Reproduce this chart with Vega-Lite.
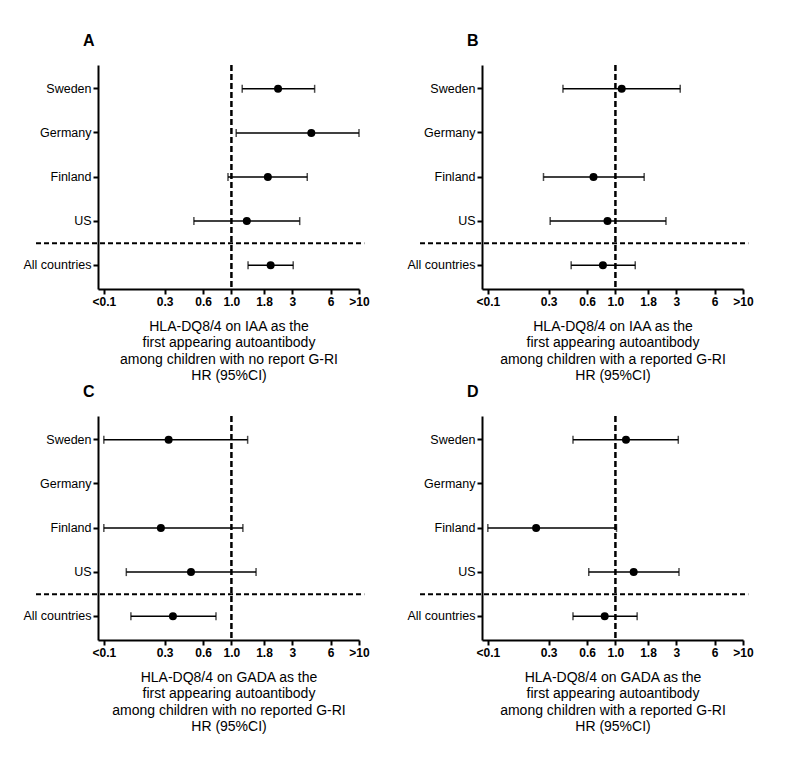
{
  "$schema": "https://vega.github.io/schema/vega-lite/v6.json",
  "padding": {"left": 22, "top": 32, "right": 5, "bottom": 5},
  "background": "white",
  "config": {
    "font": "Liberation Sans",
    "view": {"stroke": null},
    "title": {"fontSize": 16, "fontWeight": "bold", "anchor": "start", "frame": "group", "dx": -15, "offset": 15, "color": "black"},
    "axis": {"domainColor": "black", "domainWidth": 2, "tickColor": "black", "tickWidth": 2, "tickSize": 5, "labelColor": "black", "titleColor": "black", "grid": false}
  },
  "data": {"values": [
    {"panel": "A", "country": "Sweden", "hr": 2.32, "lo": 1.215, "hi": 4.49},
    {"panel": "A", "country": "Germany", "hr": 4.23, "lo": 1.09, "hi": 10},
    {"panel": "A", "country": "Finland", "hr": 1.93, "lo": 0.94, "hi": 3.93},
    {"panel": "A", "country": "US", "hr": 1.32, "lo": 0.508, "hi": 3.43},
    {"panel": "A", "country": "All countries", "hr": 2.03, "lo": 1.35, "hi": 3.05},
    {"panel": "B", "country": "Sweden", "hr": 1.12, "lo": 0.388, "hi": 3.22},
    {"panel": "B", "country": "Finland", "hr": 0.673, "lo": 0.273, "hi": 1.68},
    {"panel": "B", "country": "US", "hr": 0.867, "lo": 0.308, "hi": 2.49},
    {"panel": "B", "country": "All countries", "hr": 0.798, "lo": 0.45, "hi": 1.43},
    {"panel": "C", "country": "Sweden", "hr": 0.322, "lo": 0.1, "hi": 1.34},
    {"panel": "C", "country": "Finland", "hr": 0.28, "lo": 0.1, "hi": 1.23},
    {"panel": "C", "country": "US", "hr": 0.482, "lo": 0.15, "hi": 1.56},
    {"panel": "C", "country": "All countries", "hr": 0.348, "lo": 0.163, "hi": 0.757},
    {"panel": "D", "country": "Sweden", "hr": 1.21, "lo": 0.465, "hi": 3.11},
    {"panel": "D", "country": "Finland", "hr": 0.239, "lo": 0.1, "hi": 1.02},
    {"panel": "D", "country": "US", "hr": 1.39, "lo": 0.618, "hi": 3.15},
    {"panel": "D", "country": "All countries", "hr": 0.824, "lo": 0.465, "hi": 1.48}
  ]},
  "columns": 2,
  "spacing": {"row": 0, "column": 36},
  "concat": [
    {
      "title": "A",
      "width": 261, "height": 224,
      "transform": [{"filter": "datum.panel == 'A'"}],
      "layer": [
        {"data": {"values": [{}]}, "mark": {"type": "rule", "strokeDash": [6, 3], "strokeWidth": 2.5, "color": "black"}, "encoding": {"x": {"datum": 1, "type": "quantitative"}}},
        {"data": {"values": [{}]}, "mark": {"type": "rule", "strokeDash": [5, 3], "strokeWidth": 2, "color": "black"}, "encoding": {"y": {"datum": "All countries", "type": "nominal", "bandPosition": 0}, "x": {"datum": 0.0294, "type": "quantitative"}, "x2": {"datum": 11}}},
        {"mark": {"type": "rule", "strokeWidth": 1.5, "color": "black"}, "encoding": {"x": {"field": "lo", "type": "quantitative"}, "x2": {"field": "hi"}, "y": {"field": "country", "type": "nominal"}}},
        {"mark": {"type": "tick", "size": 8, "thickness": 1.5, "color": "black"}, "encoding": {"x": {"field": "lo", "type": "quantitative"}, "y": {"field": "country", "type": "nominal"}}},
        {"mark": {"type": "tick", "size": 8, "thickness": 1.5, "color": "black"}, "encoding": {"x": {"field": "hi", "type": "quantitative"}, "y": {"field": "country", "type": "nominal"}}},
        {"mark": {"type": "circle", "size": 64, "opacity": 1, "color": "black"}, "encoding": {
          "x": {"field": "hr", "type": "quantitative", "scale": {"type": "log", "domain": [0.09, 10], "nice": false}, "axis": {"values": [0.1, 0.3, 0.6, 1, 1.8, 3, 6, 10], "labelExpr": "datum.value <= 0.1 ? '<0.1' : datum.value >= 10 ? '>10' : datum.value == 1 ? '1.0' : format(datum.value, '~g')", "labelFlush": false, "labelOverlap": false, "labelFontSize": 12, "labelFontWeight": "bold", "labelPadding": 2, "title": ["HLA-DQ8/4 on IAA as the", "first appearing autoantibody", "among children with no report G-RI", "HR (95%CI)"], "titleFontSize": 14, "titleFontWeight": "normal", "titleLineHeight": 16.5, "titlePadding": 12}},
          "y": {"field": "country", "type": "nominal", "scale": {"domain": ["Sweden", "Germany", "Finland", "US", "All countries"], "paddingInner": 0, "paddingOuter": 0.04}, "sort": null, "axis": {"title": null, "labelFontSize": 12.5, "labelPadding": 2}}
        }}
      ]
    },
    {
      "title": "B",
      "width": 261, "height": 224,
      "transform": [{"filter": "datum.panel == 'B'"}],
      "layer": [
        {"data": {"values": [{}]}, "mark": {"type": "rule", "strokeDash": [6, 3], "strokeWidth": 2.5, "color": "black"}, "encoding": {"x": {"datum": 1, "type": "quantitative"}}},
        {"data": {"values": [{}]}, "mark": {"type": "rule", "strokeDash": [5, 3], "strokeWidth": 2, "color": "black"}, "encoding": {"y": {"datum": "All countries", "type": "nominal", "bandPosition": 0}, "x": {"datum": 0.0294, "type": "quantitative"}, "x2": {"datum": 11}}},
        {"mark": {"type": "rule", "strokeWidth": 1.5, "color": "black"}, "encoding": {"x": {"field": "lo", "type": "quantitative"}, "x2": {"field": "hi"}, "y": {"field": "country", "type": "nominal"}}},
        {"mark": {"type": "tick", "size": 8, "thickness": 1.5, "color": "black"}, "encoding": {"x": {"field": "lo", "type": "quantitative"}, "y": {"field": "country", "type": "nominal"}}},
        {"mark": {"type": "tick", "size": 8, "thickness": 1.5, "color": "black"}, "encoding": {"x": {"field": "hi", "type": "quantitative"}, "y": {"field": "country", "type": "nominal"}}},
        {"mark": {"type": "circle", "size": 64, "opacity": 1, "color": "black"}, "encoding": {
          "x": {"field": "hr", "type": "quantitative", "scale": {"type": "log", "domain": [0.09, 10], "nice": false}, "axis": {"values": [0.1, 0.3, 0.6, 1, 1.8, 3, 6, 10], "labelExpr": "datum.value <= 0.1 ? '<0.1' : datum.value >= 10 ? '>10' : datum.value == 1 ? '1.0' : format(datum.value, '~g')", "labelFlush": false, "labelOverlap": false, "labelFontSize": 12, "labelFontWeight": "bold", "labelPadding": 2, "title": ["HLA-DQ8/4 on IAA as the", "first appearing autoantibody", "among children with a reported G-RI", "HR (95%CI)"], "titleFontSize": 14, "titleFontWeight": "normal", "titleLineHeight": 16.5, "titlePadding": 12}},
          "y": {"field": "country", "type": "nominal", "scale": {"domain": ["Sweden", "Germany", "Finland", "US", "All countries"], "paddingInner": 0, "paddingOuter": 0.04}, "sort": null, "axis": {"title": null, "labelFontSize": 12.5, "labelPadding": 2}}
        }}
      ]
    },
    {
      "title": "C",
      "width": 261, "height": 224,
      "transform": [{"filter": "datum.panel == 'C'"}],
      "layer": [
        {"data": {"values": [{}]}, "mark": {"type": "rule", "strokeDash": [6, 3], "strokeWidth": 2.5, "color": "black"}, "encoding": {"x": {"datum": 1, "type": "quantitative"}}},
        {"data": {"values": [{}]}, "mark": {"type": "rule", "strokeDash": [5, 3], "strokeWidth": 2, "color": "black"}, "encoding": {"y": {"datum": "All countries", "type": "nominal", "bandPosition": 0}, "x": {"datum": 0.0294, "type": "quantitative"}, "x2": {"datum": 11}}},
        {"mark": {"type": "rule", "strokeWidth": 1.5, "color": "black"}, "encoding": {"x": {"field": "lo", "type": "quantitative"}, "x2": {"field": "hi"}, "y": {"field": "country", "type": "nominal"}}},
        {"mark": {"type": "tick", "size": 8, "thickness": 1.5, "color": "black"}, "encoding": {"x": {"field": "lo", "type": "quantitative"}, "y": {"field": "country", "type": "nominal"}}},
        {"mark": {"type": "tick", "size": 8, "thickness": 1.5, "color": "black"}, "encoding": {"x": {"field": "hi", "type": "quantitative"}, "y": {"field": "country", "type": "nominal"}}},
        {"mark": {"type": "circle", "size": 64, "opacity": 1, "color": "black"}, "encoding": {
          "x": {"field": "hr", "type": "quantitative", "scale": {"type": "log", "domain": [0.09, 10], "nice": false}, "axis": {"values": [0.1, 0.3, 0.6, 1, 1.8, 3, 6, 10], "labelExpr": "datum.value <= 0.1 ? '<0.1' : datum.value >= 10 ? '>10' : datum.value == 1 ? '1.0' : format(datum.value, '~g')", "labelFlush": false, "labelOverlap": false, "labelFontSize": 12, "labelFontWeight": "bold", "labelPadding": 2, "title": ["HLA-DQ8/4 on GADA as the", "first appearing autoantibody", "among children with no reported G-RI", "HR (95%CI)"], "titleFontSize": 14, "titleFontWeight": "normal", "titleLineHeight": 16.5, "titlePadding": 12}},
          "y": {"field": "country", "type": "nominal", "scale": {"domain": ["Sweden", "Germany", "Finland", "US", "All countries"], "paddingInner": 0, "paddingOuter": 0.04}, "sort": null, "axis": {"title": null, "labelFontSize": 12.5, "labelPadding": 2}}
        }}
      ]
    },
    {
      "title": "D",
      "width": 261, "height": 224,
      "transform": [{"filter": "datum.panel == 'D'"}],
      "layer": [
        {"data": {"values": [{}]}, "mark": {"type": "rule", "strokeDash": [6, 3], "strokeWidth": 2.5, "color": "black"}, "encoding": {"x": {"datum": 1, "type": "quantitative"}}},
        {"data": {"values": [{}]}, "mark": {"type": "rule", "strokeDash": [5, 3], "strokeWidth": 2, "color": "black"}, "encoding": {"y": {"datum": "All countries", "type": "nominal", "bandPosition": 0}, "x": {"datum": 0.0294, "type": "quantitative"}, "x2": {"datum": 11}}},
        {"mark": {"type": "rule", "strokeWidth": 1.5, "color": "black"}, "encoding": {"x": {"field": "lo", "type": "quantitative"}, "x2": {"field": "hi"}, "y": {"field": "country", "type": "nominal"}}},
        {"mark": {"type": "tick", "size": 8, "thickness": 1.5, "color": "black"}, "encoding": {"x": {"field": "lo", "type": "quantitative"}, "y": {"field": "country", "type": "nominal"}}},
        {"mark": {"type": "tick", "size": 8, "thickness": 1.5, "color": "black"}, "encoding": {"x": {"field": "hi", "type": "quantitative"}, "y": {"field": "country", "type": "nominal"}}},
        {"mark": {"type": "circle", "size": 64, "opacity": 1, "color": "black"}, "encoding": {
          "x": {"field": "hr", "type": "quantitative", "scale": {"type": "log", "domain": [0.09, 10], "nice": false}, "axis": {"values": [0.1, 0.3, 0.6, 1, 1.8, 3, 6, 10], "labelExpr": "datum.value <= 0.1 ? '<0.1' : datum.value >= 10 ? '>10' : datum.value == 1 ? '1.0' : format(datum.value, '~g')", "labelFlush": false, "labelOverlap": false, "labelFontSize": 12, "labelFontWeight": "bold", "labelPadding": 2, "title": ["HLA-DQ8/4 on GADA as the", "first appearing autoantibody", "among children with a reported G-RI", "HR (95%CI)"], "titleFontSize": 14, "titleFontWeight": "normal", "titleLineHeight": 16.5, "titlePadding": 12}},
          "y": {"field": "country", "type": "nominal", "scale": {"domain": ["Sweden", "Germany", "Finland", "US", "All countries"], "paddingInner": 0, "paddingOuter": 0.04}, "sort": null, "axis": {"title": null, "labelFontSize": 12.5, "labelPadding": 2}}
        }}
      ]
    }
  ]
}
